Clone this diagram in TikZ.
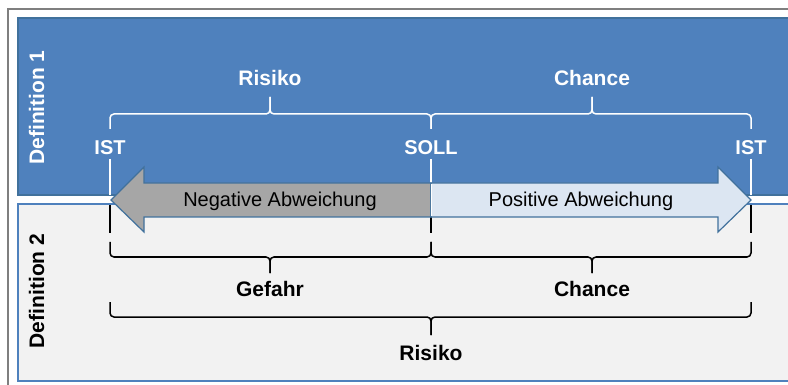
\documentclass[tikz,border=0pt]{standalone}
\usepackage{fontspec}
\setmainfont{Liberation Sans}
\definecolor{panelblue}{HTML}{4F81BD}
\definecolor{paneledge}{HTML}{41719C}
\definecolor{panelgray}{HTML}{F2F2F2}
\definecolor{arrowgray}{HTML}{A6A6A6}
\definecolor{arrowlight}{HTML}{DCE6F2}
\definecolor{framegray}{HTML}{7F7F7F}
\tikzset{
  boldlbl/.style={font=\fontsize{21}{25}\selectfont\bfseries, inner sep=0pt, anchor=base},
  reglbl/.style={font=\fontsize{20}{24}\selectfont, inner sep=0pt, anchor=base},
  wline/.style={draw=white, line width=2pt},
  bline/.style={draw=black, line width=2.4pt},
  wbrace/.style={draw=white, line width=1.5pt, rounded corners=4pt},
  bbrace/.style={draw=black, line width=1.5pt, rounded corners=4pt},
}
\begin{document}
\begin{tikzpicture}[x=1pt,y=-1pt]
\clip (0,0) rectangle (788,385);
\fill[white] (0,0) rectangle (788,385);
% outer frame
\draw[framegray, line width=2pt] (8,9) rectangle (800,400);
% panels
\draw[paneledge, fill=panelblue, line width=1.5pt] (18,18) rectangle (800,195);
\draw[panelblue, fill=panelgray, line width=1.5pt] (18,204) rectangle (800,381);
% coordinates
\coordinate (L) at (110,0);
\coordinate (M) at (431,0);
\coordinate (R) at (751,0);
% marker lines
\draw[wline] (110,159) -- (110,195);
\draw[wline] (431,159) -- (431,183);
\draw[wline] (751,159) -- (751,195);
\draw[bline] (110,205) -- (110,233);
\draw[bline] (431,217) -- (431,233);
\draw[bline] (751,205) -- (751,233);
% arrow
\draw[paneledge, fill=arrowgray, line width=1.2pt, line join=miter]
  (111,200) -- (144,167) -- (144,183) -- (431,183) -- (431,217) -- (144,217) -- (144,232) -- cycle;
\draw[paneledge, fill=arrowlight, line width=1.2pt, line join=miter]
  (431,183) -- (718,183) -- (718,167) -- (751,200) -- (718,232) -- (718,217) -- (431,217) -- cycle;
\draw[white, line width=0.8pt] (431,184) -- (431,216);
\node[reglbl] (neg) at (280,206.5) {Negative Abweichung};
\node[reglbl] (pos) at (581,206.5) {Positive Abweichung};
% top braces
\draw[wbrace] (110,129) -- (110,114) -- (270,114) -- (270,97);
\draw[wbrace] (270,97) -- (270,114) -- (431,114) -- (431,129);
\draw[wbrace] (431,129) -- (431,114) -- (592,114) -- (592,97);
\draw[wbrace] (592,97) -- (592,114) -- (751,114) -- (751,129);
% bottom braces
\draw[bbrace] (110,242) -- (110,257) -- (270,257) -- (270,273);
\draw[bbrace] (270,273) -- (270,257) -- (431,257) -- (431,242);
\draw[bbrace] (431,242) -- (431,257) -- (592,257) -- (592,273);
\draw[bbrace] (592,273) -- (592,257) -- (751,257) -- (751,242);
\draw[bbrace] (110,302) -- (110,317) -- (431,317) -- (431,335);
\draw[bbrace] (431,335) -- (431,317) -- (751,317) -- (751,302);
% labels top
\node[boldlbl, text=white] (risk1) at (270,85.5) {Risiko};
\node[boldlbl, text=white] (chance1) at (592,85.5) {Chance};
\node[boldlbl, text=white, font=\fontsize{20}{24}\selectfont\bfseries] (ist1) at (110,155) {IST};
\node[boldlbl, text=white, font=\fontsize{20}{24}\selectfont\bfseries] (soll) at (431,155) {SOLL};
\node[boldlbl, text=white, font=\fontsize{20}{24}\selectfont\bfseries] (ist2) at (751,155) {IST};
% labels bottom
\node[boldlbl] (gefahr) at (270,296.5) {Gefahr};
\node[boldlbl] (chance2) at (592,296.5) {Chance};
\node[boldlbl] (risk2) at (431,360) {Risiko};
% side labels
\node[boldlbl, text=white, rotate=90] (def1) at (44,107.5) {Definition 1};
\node[boldlbl, rotate=90] (def2) at (44,291) {Definition 2};
\end{tikzpicture}
\end{document}
